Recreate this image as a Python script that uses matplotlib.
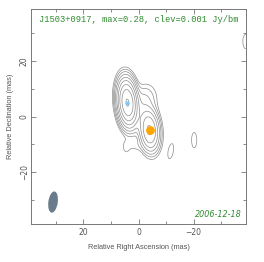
import numpy as np
import matplotlib.pyplot as plt
from matplotlib.patches import Ellipse

# ---- data (mas, Jy/bm) ----
source = "J1503+0917"
peak_max = 0.28
clev = 0.001
epoch = "2006-12-18"

# gaussian components building up the brightness map
comp_x = [4.0, -4.0, -1.0, -2.0, 4.5, 1.0, -11.7, -20.2, -38.8]
comp_y = [5.0, -5.0, 0.0, 6.0, -11.0, -10.5, -12.5, -8.5, 27.0]
comp_flux = [0.27, 0.07, 0.006, 0.004, 0.0012, 0.0012, 0.0013, 0.0013, 0.0013]
comp_sx = [1.6, 1.7, 2.5, 2.6, 1.0, 2.5, 1.3, 1.3, 1.3]
comp_sy = [3.85, 3.6, 3.5, 3.4, 2.0, 1.5, 3.8, 3.8, 3.5]
comp_pa = [5, 5, 0, -15, 0, 0, -10, 0, 0]

# model-fit markers
core_xy = (4.0, 5.0)
knot_xy = (-4.0, -5.0)

# restoring beam
beam_xy = (31.0, -30.8)
beam_w, beam_h, beam_pa = 3.4, 7.7, 8

# contour levels: clev * 2^n
levels = clev * 2.0 ** np.arange(9)

# ---- build map ----
g = np.linspace(-45, 45, 451)
X, Y = np.meshgrid(g, g)
img = np.zeros_like(X)
for x0, y0, f, sx, sy, pa in zip(comp_x, comp_y, comp_flux, comp_sx, comp_sy, comp_pa):
    t = np.radians(pa)
    dx, dy = X - x0, Y - y0
    a = dx * np.sin(t) + dy * np.cos(t)
    b = dx * np.cos(t) - dy * np.sin(t)
    img += f * np.exp(-0.5 * (a**2 / sy**2 + b**2 / sx**2))

# ---- plot ----
fig = plt.figure(figsize=(2.64, 2.62), dpi=100)
ax = fig.add_axes([31/264, 38/262, 215/264, 215/262])

ax.contour(X, Y, img, levels=levels, colors='#8c8c8c', linewidths=0.5)
ax.plot(*core_xy, 'o', color='#80c8f8', ms=3.0, mec='none')
ax.plot(*knot_xy, 'o', color='#ffa500', ms=6.3, mec='none')
ax.add_patch(Ellipse(beam_xy, beam_w, beam_h, angle=beam_pa, color='#6a7b8c', lw=0))

ax.set_xlim(39, -39)
ax.set_ylim(-38.7, 38.7)
ax.set_aspect('auto')

green = '#2e8b2e'
ax.text(0.5, 0.949, f"{source}, max={peak_max}, clev={clev} Jy/bm",
        transform=ax.transAxes, ha='center', va='center', color=green,
        family='Liberation Mono', fontsize=6.3)
ax.text(0.981, 0.043, epoch, transform=ax.transAxes, ha='right', va='center',
        color=green, style='italic', fontsize=5.8)

ax.set_xticks([20, 0, -20])
ax.set_yticks([-20, 0, 20])
ax.set_xticks([30, 10, -10, -30], minor=True)
ax.set_yticks([-30, -10, 10, 30], minor=True)
ax.tick_params(which='both', direction='in', top=True, right=True,
               color='#777777', labelcolor='#555555', labelsize=5.5, width=0.6)
ax.tick_params(which='major', length=3.5)
ax.tick_params(axis='x', which='major', pad=3)
ax.tick_params(axis='y', which='major', pad=1.5)
ax.tick_params(which='minor', length=2)
for lab in ax.get_yticklabels():
    lab.set_rotation(90)
    lab.set_va('center')
for s in ax.spines.values():
    s.set_color('#777777')
    s.set_linewidth(0.7)

ax.set_xlabel('Relative Right Ascension (mas)', fontsize=5.3, color='#555555',
              family='Liberation Sans', labelpad=5)
ax.set_ylabel('Relative Declination (mas)', fontsize=5.3, color='#555555',
              family='Liberation Sans', labelpad=4)

fig.savefig('out.png', dpi=100)
